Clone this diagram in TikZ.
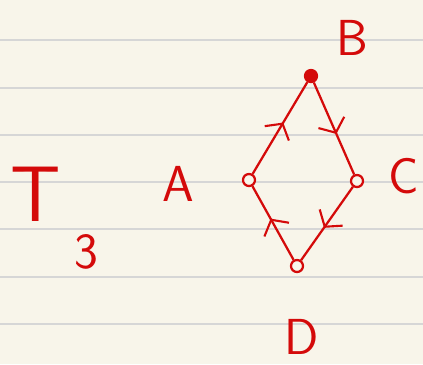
\documentclass[tikz,border=0pt]{standalone}
\usepackage{tikz}
\usetikzlibrary{arrows.meta,decorations.markings}
\definecolor{inkred}{RGB}{212,10,10}
\definecolor{paper}{RGB}{248,245,234}
\definecolor{ruleline}{RGB}{214,214,214}

\begin{document}
\begin{tikzpicture}[
  x=0.025cm, y=-0.025cm,
  every node/.style={font=\sffamily\fontsize{36}{36}\selectfont, text=inkred, inner sep=0pt},
  vertex/.style={draw=inkred, circle, line width=1.6pt, minimum size=0.3cm, fill=paper},
  fullvertex/.style={vertex, fill=inkred},
  edge/.style={draw=inkred, line width=1.6pt, postaction={decorate},
    decoration={markings, mark=at position 0.56 with
      {\arrow[inkred]{Straight Barb[length=8pt,width=20pt,line width=1.5pt]}}}}
]
% paper
\path[use as bounding box, fill=paper] (0,0) rectangle (423,364);
\foreach \y in {40,88,135,182,229,277,324}
  \draw[ruleline, line width=1.1pt] (0,\y) -- (423,\y);

% title
\node (tee)   at (36,194)  {\fontsize{56}{56}\selectfont T};
\node (three) at (86,252)  {3};

% vertices
\node[fullvertex] (b) at (311,76)  {};
\node[vertex]     (a) at (249,180) {};
\node[vertex]     (c) at (357,181) {};
\node[vertex]     (d) at (297,266) {};

\node (lb) at (352,38)  {B};
\node (la) at (178,184) {A};
\node (lc) at (404,176) {C};
\node (ld) at (302,337) {D};

\foreach \from/\to in {a/b, b/c, c/d, d/a}
  \draw[edge] (\from) -- (\to);

\end{tikzpicture}
\end{document}
